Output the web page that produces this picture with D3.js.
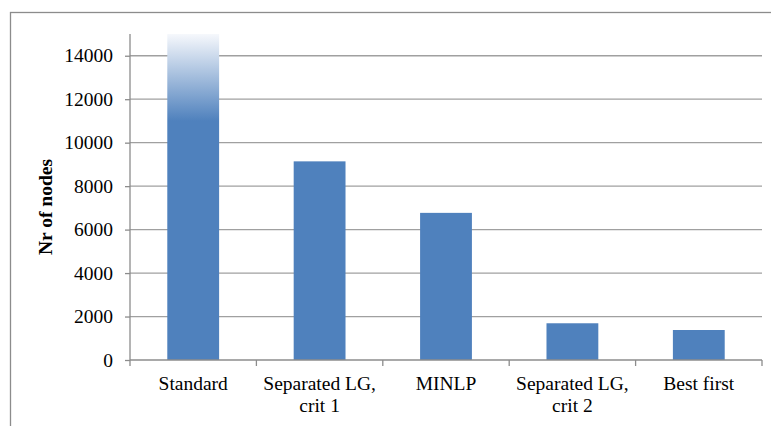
<!DOCTYPE html>
<html>
<head>
<meta charset="utf-8">
<script src="https://cdn.jsdelivr.net/npm/d3@7/dist/d3.min.js"></script>
<style>
  html, body { margin: 0; padding: 0; background: #fff; }
  svg { display: block; }
</style>
</head>
<body>
<svg id="chart" width="771" height="426"></svg>
<script>
// Search methods and the number of nodes each one explored
const categories = [["Standard"], ["Separated LG,", "crit 1"], ["MINLP"], ["Separated LG,", "crit 2"], ["Best first"]];
const nodeCounts = [15000, 9140, 6770, 1690, 1380];
const yTicks = [0, 2000, 4000, 6000, 8000, 10000, 12000, 14000];
const yMax = 15000;
const yTitle = "Nr of nodes";

const serif = "Liberation Serif, DejaVu Serif, serif";
const svg = d3.select("#chart");
const plotLeft = 130, plotRight = 762, plotTop = 34, plotBottom = 360;

// Outer chart frame (continues past the visible area on the right and bottom)
svg.append("rect")
  .attr("x", 10.5).attr("y", 12.5)
  .attr("width", 900).attr("height", 600)
  .attr("fill", "none").attr("stroke", "#8c8c8c").attr("stroke-width", 1.3);

const x = d3.scaleBand()
  .domain(d3.range(categories.length))
  .range([plotLeft, plotRight])
  .paddingInner(0.59)
  .paddingOuter(0.295);

const y = d3.scaleLinear().domain([0, yMax]).range([plotBottom, plotTop]);

// Horizontal gridlines
svg.append("g").selectAll("line")
  .data(yTicks.filter(t => t > 0))
  .join("line")
  .attr("x1", plotLeft).attr("x2", plotRight)
  .attr("y1", d => y(d)).attr("y2", d => y(d))
  .attr("stroke", "#a0a0a0").attr("stroke-width", 1.3);

// Fade for the bar that runs past the top of the axis
const defs = svg.append("defs");
const grad = defs.append("linearGradient")
  .attr("id", "fadeTop")
  .attr("gradientUnits", "userSpaceOnUse")
  .attr("x1", 0).attr("x2", 0)
  .attr("y1", y(yMax)).attr("y2", y(11000));
grad.append("stop").attr("offset", 0).attr("stop-color", "#f6f8fc");
grad.append("stop").attr("offset", 1).attr("stop-color", "#4f81bd");

// Bars
svg.append("g").selectAll("rect")
  .data(nodeCounts)
  .join("rect")
  .attr("x", (d, i) => x(i))
  .attr("width", x.bandwidth())
  .attr("y", d => y(Math.min(d, yMax)))
  .attr("height", d => y(0) - y(Math.min(d, yMax)))
  .attr("fill", d => d >= yMax ? "url(#fadeTop)" : "#4f81bd");

// Y axis
const yAxis = d3.axisLeft(y).tickValues(yTicks).tickSize(5).tickPadding(12).tickFormat(d3.format("d"));
const gy = svg.append("g").attr("transform", `translate(${plotLeft},0)`).call(yAxis)
  .attr("font-family", serif).attr("font-size", 19.5);
gy.select(".domain").attr("stroke", "#8c8c8c").attr("stroke-width", 1.3)
  .attr("d", `M-0,${plotTop}V${plotBottom}`);
gy.selectAll(".tick line").attr("stroke", "#8c8c8c").attr("stroke-width", 1.3);
gy.selectAll(".tick text").attr("fill", "#000");

// X axis: baseline with category boundary ticks
const gx = svg.append("g").attr("font-family", serif).attr("font-size", 19.5);
gx.append("line")
  .attr("x1", plotLeft).attr("x2", plotRight)
  .attr("y1", plotBottom).attr("y2", plotBottom)
  .attr("stroke", "#8c8c8c").attr("stroke-width", 1.3);
const bounds = d3.range(categories.length + 1).map(i => i === categories.length ? plotRight : x(i) - x.step() * x.paddingInner() / 2);
gx.selectAll("line.b")
  .data(bounds)
  .join("line").attr("class", "b")
  .attr("x1", d => d).attr("x2", d => d)
  .attr("y1", plotBottom).attr("y2", plotBottom + 6)
  .attr("stroke", "#8c8c8c").attr("stroke-width", 1.3);

// Category labels, wrapped onto two lines where needed
const labels = gx.selectAll("text.cat")
  .data(categories)
  .join("text").attr("class", "cat")
  .attr("text-anchor", "middle")
  .attr("fill", "#000")
  .attr("transform", (d, i) => `translate(${x(i) + x.bandwidth() / 2},${plotBottom + 30})`);
labels.selectAll("tspan")
  .data(d => d)
  .join("tspan")
  .attr("x", 0)
  .attr("y", (d, j) => j * 22)
  .text(d => d);

// Y axis title
svg.append("text")
  .attr("transform", `translate(52,${(plotTop + plotBottom) / 2 + 10}) rotate(-90)`)
  .attr("text-anchor", "middle")
  .attr("font-family", serif)
  .attr("font-size", 19.5)
  .attr("font-weight", "bold")
  .attr("fill", "#000")
  .text(yTitle);
</script>
</body>
</html>
